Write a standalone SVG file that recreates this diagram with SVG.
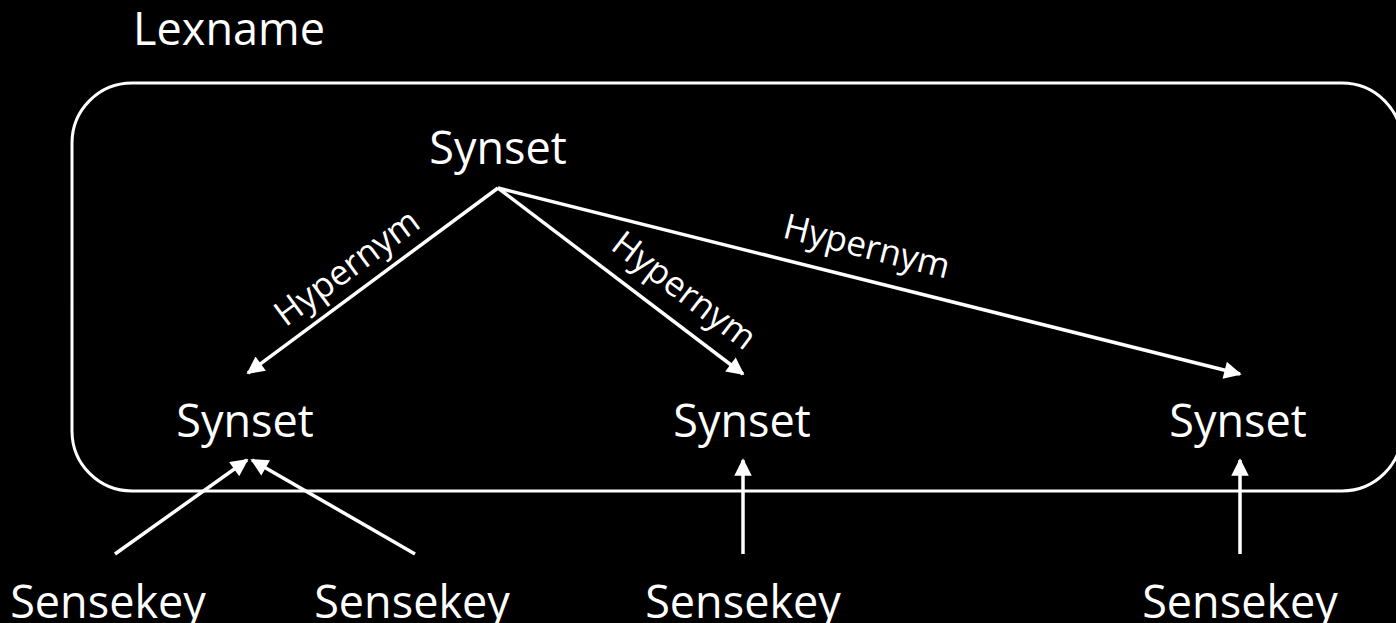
<svg xmlns="http://www.w3.org/2000/svg" width="1396" height="623" viewBox="0 0 1396 623">
<defs>
<style>
.t{font-family:"Open Sans","Noto Sans",sans-serif;fill:#fff;text-anchor:middle}
.big{font-size:45px}
.lbl{font-size:35px}
.c{stroke:#fff;stroke-width:3.5;fill:none;marker-end:url(#ah)}
</style>
<marker id="ah" viewBox="0 0 10 10" refX="9" refY="5" markerWidth="6" markerHeight="5" markerUnits="strokeWidth" orient="auto">
<path d="M0,0 L10,5 L0,10 Z" fill="#fff"/>
</marker>
</defs>
<rect width="1396" height="623" fill="#000"/>
<g id="lexname">
<rect x="72" y="83" width="1330" height="408" rx="60" ry="60" fill="none" stroke="#fff" stroke-width="3"/>
<text class="t big" x="229" y="45">Lexname</text>
</g>
<g id="synset-top"><text class="t big" x="498" y="164">Synset</text></g>
<g id="synset-left"><text class="t big" x="245" y="437">Synset</text></g>
<g id="synset-mid"><text class="t big" x="742" y="437">Synset</text></g>
<g id="synset-right"><text class="t big" x="1238" y="437">Synset</text></g>
<g id="sensekey-1"><text class="t big" x="108" y="618">Sensekey</text></g>
<g id="sensekey-2"><text class="t big" x="412" y="618">Sensekey</text></g>
<g id="sensekey-3"><text class="t big" x="743" y="618">Sensekey</text></g>
<g id="sensekey-4"><text class="t big" x="1240" y="618">Sensekey</text></g>
<g id="connectors">
<line class="c" x1="498" y1="188" x2="248" y2="373"/>
<line class="c" x1="498" y1="188" x2="743" y2="374"/>
<line class="c" x1="498" y1="188" x2="1240" y2="374"/>
<line class="c" x1="115" y1="554" x2="247" y2="460"/>
<line class="c" x1="415" y1="554" x2="252" y2="460"/>
<line class="c" x1="743" y1="554" x2="743" y2="460"/>
<line class="c" x1="1240" y1="554" x2="1240" y2="460"/>
<text class="t lbl" transform="translate(354,277) rotate(-36.5)">Hypernym</text>
<text class="t lbl" transform="translate(677,300) rotate(37.2)">Hypernym</text>
<text class="t lbl" transform="translate(864,258) rotate(14.07)">Hypernym</text>
</g>
</svg>
